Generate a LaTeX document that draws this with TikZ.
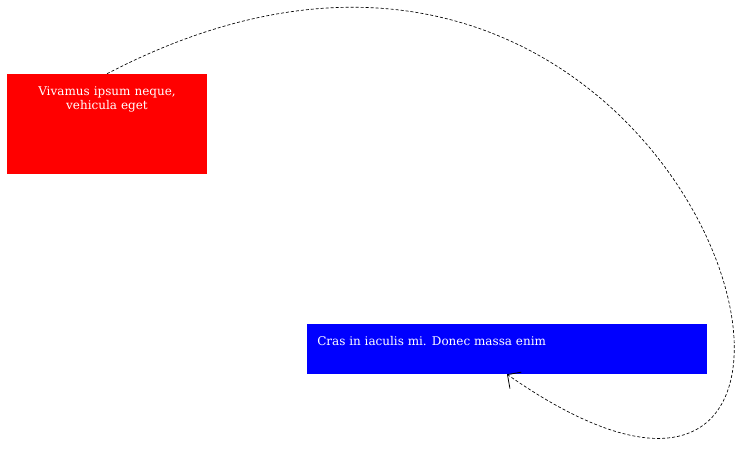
\documentclass[tikz,border=0pt]{standalone}
\usepackage{fontspec}
\setmainfont{DejaVu Serif}
\usetikzlibrary{arrows.meta}
\tikzset{
  redbox/.style={draw=none, fill=red, minimum width=150pt, minimum height=75pt, inner sep=0pt},
  bluebox/.style={draw=none, fill=blue, minimum width=300pt, minimum height=37.5pt, inner sep=0pt},
  txt/.style={text=white, inner sep=0pt, font=\fontsize{9pt}{10.5pt}\selectfont},
  conn/.style={draw=black, line width=0.5pt, dash pattern=on 2.25pt off 1.5pt,
    -{Straight Barb[length=7.5pt, width=15pt, line width=0.6pt]}}
}
\begin{document}
\begin{tikzpicture}[x=0.75pt, y=-0.75pt]
\useasboundingbox (0,0) rectangle (741,451);
\node[redbox] (a) at (107,124) {};
\node[bluebox] (b) at (507,349) {};
\node[txt, anchor=north, text width=140pt, align=center] (at) at (107,86) {Vivamus ipsum neque,\\vehicula eget};
\node[txt, anchor=north west, align=left] (bt) at (317,336) {Cras in iaculis mi. Donec massa enim};
\draw[conn] (a.north) .. controls +(605,-315) and +(440,308) .. (b.south);
\end{tikzpicture}
\end{document}
